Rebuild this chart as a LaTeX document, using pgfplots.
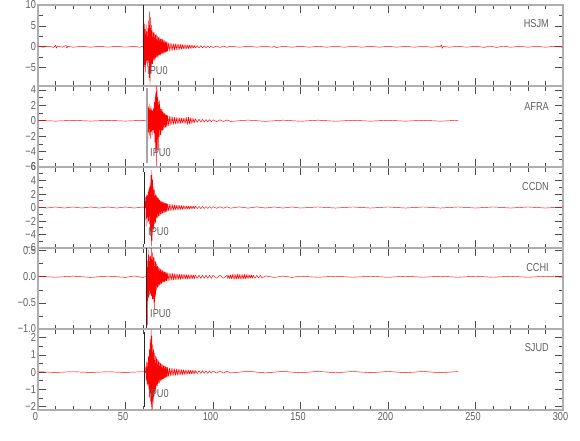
\documentclass[border=0pt]{standalone}
\usepackage{pgfplots}
\pgfplotsset{compat=1.18}
\usepackage{fontspec}
\setmainfont{Liberation Sans}[FakeStretch=0.8]
\newcommand\lab{\fontsize{11.5}{11.5}\selectfont}
\definecolor{frame}{HTML}{AEAEAE}
\definecolor{txt}{HTML}{606060}
\pgfplotsset{
 seis/.style={
  width=525pt, height=81pt, scale only axis, anchor=south west,
  xmin=0, xmax=300,
  xtick={0,50,100,150,200,250,300}, minor x tick num=4,
  xticklabels={},
  minor y tick num=1,
  axis line style={frame, line width=1.6pt},
  every tick/.style={black!70, line width=0.6pt},
  major tick length=8pt, minor tick length=4.5pt,
  tick align=inside,
  ticklabel style={font=\lab, text=txt},
  yticklabel style={xshift=1.5pt},
  xticklabel style={yshift=1pt, xshift=-2.5pt},
  clip=true,
 },
 tr/.style={red, line width=0.45pt, line join=round},
}
\begin{document}
\begin{tikzpicture}
\useasboundingbox (0,0) rectangle (580pt,440pt);
% Panel 1 HSJM
\begin{axis}[seis, at={(38pt,354pt)}, ymin=-9.4, ymax=10,
  ytick={-5,0,5,10}, yticklabels={−5,0,5,10}]
\addplot[tr] coordinates {(0,0.05)(3,-0.1)(6,0.12)(9,-0.15)(10,0.35)(10.5,-0.35)(11,0.15)(14,-0.1)(16,0.3)(16.5,-0.35)(17,0.1)(20,-0.1)(25,0.1)(30,-0.1)(35,0.1)(40,-0.08)(45,0.1)(50,-0.08)(55,0.1)(58,-0.1)(60,0.1)
(60.25,9.9)(60.5,-9.3)(60.75,5.5)(61,-4.8)(61.25,4.2)(61.5,-6.1)(61.75,5.3)(62,-3.9)(62.25,3.6)(62.5,-4.7)(62.75,4.4)(63,-3.8)(63.25,6.2)(63.5,-7.4)(63.75,8.4)(64,-9.2)(64.25,7.1)(64.5,-6.3)(64.75,5.2)(65,-4.6)(65.25,3.9)(65.5,-4.1)(65.75,3.4)(66,-3.4)(66.25,3.5)(66.5,-3.2)(66.75,3.1)
(67,-3.0)(67.25,2.8)(67.5,-2.6)(67.75,2.9)(68,-2.4)(68.25,2.5)(68.5,-2.6)(68.75,2.2)(69,-2.1)(69.25,2.3)(69.5,-2.0)(69.75,1.9)(70,-2.1)(70.25,1.8)(70.5,-1.7)(70.75,1.9)(71,-1.6)(71.25,1.7)(71.5,-1.7)(71.75,1.5)(72,-1.4)(72.25,1.5)(72.5,-1.4)(72.75,1.2)(73,-1.3)(73.25,1.25)(73.5,-1.15)(73.75,1.1)(74,-1.1)
(74.5,0.9)(75,-1.0)(75.5,0.85)(76,-0.9)(76.5,0.8)(77,-0.85)(77.5,0.75)(78,-0.8)(78.5,0.72)(79,-0.7)(79.5,0.68)(80,-0.7)(80.5,0.62)(81,-0.66)(81.5,0.58)(82,-0.6)(82.5,0.55)(83,-0.52)(83.5,0.5)(84,-0.5)(84.5,0.47)(85,-0.45)(85.5,0.43)(86,-0.44)(86.5,0.4)(87,-0.38)(87.5,0.37)(88,-0.36)(88.5,0.34)(89,-0.33)(89.5,0.32)(90,-0.3)
(91,0.28)(92,-0.27)(93,0.26)(94,-0.25)(95,0.24)(96,-0.23)(97,0.22)(98,-0.21)(99,0.2)(100,-0.19)(102,0.17)(104,-0.16)(106,0.15)(108,-0.13)(110,0.12)
(115,-0.1)(120,0.1)(125,-0.09)(130,0.1)(134,-0.1)(135,0.2)(136,-0.2)(140,0.1)(145,-0.1)(150,0.1)(155,-0.1)(160,0.1)(165,-0.1)(170,0.1)(175,-0.1)(180,0.1)(185,-0.1)(190,0.1)(195,-0.1)(200,0.1)(205,-0.1)(210,0.1)(215,-0.1)(220,0.1)(225,-0.1)(230,0.1)(230.5,0.45)(231,-0.4)(231.5,0.1)(235,-0.1)(240,0.1)(245,-0.1)(250,0.12)(255,-0.15)(258,0.15)(262,-0.15)(266,0.15)(270,-0.12)(275,0.1)(280,-0.1)(285,0.1)(290,-0.1)(295,0.1)(300,-0.1)};
\addplot[black!85, line width=0.7pt] coordinates {(60.2,-9.2)(60.2,10)};
\end{axis}
% Panel 2 AFRA
\begin{axis}[seis, at={(38pt,273pt)}, ymin=-6, ymax=4.5,
  ytick={-6,-4,-2,0,2,4}, yticklabels={−6,−4,−2,0,2,4}]
\addplot[tr] coordinates {(0,0.04)(10,-0.05)(20,0.05)(30,-0.05)(40,0.05)(50,-0.05)(60,0.05)(62.25,-0.05)
(62.5,1.2)(62.75,-2.6)(63,1.8)(63.25,-1.5)(63.5,2.2)(63.75,-1.9)(64,1.6)(64.25,-2.3)(64.5,1.9)(64.75,-1.4)(65,1.5)(65.25,-1.8)(65.5,1.3)(65.75,-1.2)(66,1.7)(66.25,-1.6)(66.5,2.4)(66.75,-2.8)(67,3.5)(67.25,-4.0)(67.5,4.6)(67.75,-5.9)(68,4.4)(68.25,-3.6)(68.5,3.0)(68.75,-3.8)(69,2.4)(69.25,-2.1)(69.5,2.6)(69.75,-1.9)(70,1.7)(70.25,-1.8)(70.5,1.5)(70.75,-1.3)(71,1.4)(71.25,-1.2)(71.5,1.1)(71.75,-1.15)(72,1.0)(72.25,-0.9)(72.5,0.95)(72.75,-0.85)(73,0.8)(73.25,-0.85)(73.5,0.75)(73.75,-0.7)(74,0.7)
(74.5,-0.65)(75,0.6)(75.5,-0.6)(76,0.55)(76.5,-0.5)(77,0.5)(77.5,-0.48)(78,0.45)(78.5,-0.45)(79,0.42)(79.5,-0.4)(80,0.4)(80.5,-0.38)(81,0.37)(81.5,-0.36)(82,0.34)(82.5,-0.33)(83,0.32)(83.5,-0.3)(84,0.35)(84.5,-0.4)(85,0.45)(85.5,-0.5)(86,0.48)(86.5,-0.45)(87,0.42)(87.5,-0.38)(88,0.33)(88.5,-0.3)(89,0.27)(89.5,-0.25)(90,0.24)
(91,-0.22)(92,0.2)(93,-0.19)(94,0.18)(95,-0.17)(96,0.16)(97,-0.15)(98,0.14)(99,-0.13)(100,0.12)(102,-0.12)(104,0.11)(106,-0.1)(108,0.1)(110,-0.09)
(120,0.08)(130,-0.08)(140,0.07)(150,-0.07)(160,0.07)(170,-0.07)(180,0.06)(190,-0.06)(200,0.06)(210,-0.06)(220,0.06)(230,-0.06)(240,0.05)};
\addplot[black!35, line width=1.6pt] coordinates {(62.2,-5.5)(62.2,4.2)};
\end{axis}
% Panel 3 CCDN
\begin{axis}[seis, at={(38pt,192pt)}, ymin=-6, ymax=6,
  ytick={-6,-4,-2,0,2,4,6}, yticklabels={−6,−4,−2,0,2,4,6}]
\addplot[tr] coordinates {(0,0.08)(5,-0.08)(10,0.08)(15,-0.08)(20,0.08)(25,-0.08)(30,0.08)(35,-0.08)(40,0.08)(45,-0.08)(50,0.08)(55,-0.08)(60,0.08)(61.25,-0.08)
(61.5,1.5)(61.75,-2.8)(62,1.9)(62.25,-1.6)(62.5,1.8)(62.75,-2.2)(63,2.5)(63.25,-2.0)(63.5,2.9)(63.75,-2.4)(64,3.6)(64.25,-4.2)(64.5,4.8)(64.75,-5.7)(65,5.5)(65.25,-4.9)(65.5,4.1)(65.75,-3.5)(66,3.0)(66.25,-3.2)(66.5,2.6)(66.75,-2.4)(67,2.0)(67.25,-2.2)(67.5,1.8)(67.75,-1.6)(68,1.7)(68.25,-1.5)(68.5,1.4)(68.75,-1.3)(69,1.35)(69.25,-1.2)(69.5,1.1)(69.75,-1.15)(70,1.0)(70.25,-0.95)(70.5,0.9)(70.75,-0.9)(71,0.85)(71.25,-0.8)(71.5,0.8)(71.75,-0.75)(72,0.7)(72.25,-0.72)(72.5,0.68)(72.75,-0.65)(73,0.6)(73.25,-0.62)(73.5,0.58)(73.75,-0.55)(74,0.55)
(74.5,-0.5)(75,0.48)(75.5,-0.47)(76,0.45)(76.5,-0.43)(77,0.42)(77.5,-0.4)(78,0.38)(78.5,-0.37)(79,0.36)(79.5,-0.34)(80,0.33)(80.5,-0.32)(81,0.31)(81.5,-0.3)(82,0.29)(82.5,-0.28)(83,0.27)(83.5,-0.26)(84,0.25)(84.5,-0.25)(85,0.24)(85.5,-0.23)(86,0.22)(86.5,-0.22)(87,0.21)(87.5,-0.2)(88,0.2)(88.5,-0.19)(89,0.19)(89.5,-0.18)(90,0.18)
(91,-0.17)(92,0.16)(93,-0.16)(94,0.15)(95,-0.15)(96,0.14)(97,-0.14)(98,0.13)(99,-0.13)(100,0.12)(102,-0.12)(104,0.11)(106,-0.11)(108,0.1)(110,-0.1)
(115,0.09)(120,-0.09)(125,0.09)(130,-0.08)(135,0.08)(140,-0.08)(145,0.08)(150,-0.08)(160,0.08)(170,-0.08)(180,0.08)(190,-0.08)(200,0.08)(210,-0.08)(220,0.08)(230,-0.08)(240,0.08)(250,-0.08)(260,0.08)(270,-0.08)(280,0.08)(290,-0.08)(300,0.08)};
\addplot[black!85, line width=0.7pt] coordinates {(60.8,-5.4)(60.8,5.2)};
\end{axis}
% Panel 4 CCHI
\begin{axis}[seis, at={(38pt,111pt)}, ymin=-1.0, ymax=0.55,
  ytick={-1,-0.5,0,0.5}, yticklabels={−1.0,−0.5,0.0,0.5}]
\addplot[tr] coordinates {(0,0.01)(10,-0.01)(20,0.012)(30,-0.012)(40,0.012)(50,-0.012)(55,0.015)(60,-0.015)(62.15,0.01)
(62.4,0.3)(62.65,-0.92)(62.9,0.52)(63.15,-0.4)(63.4,0.42)(63.65,-0.35)(63.9,0.38)(64.15,-0.33)(64.4,0.4)(64.65,-0.36)(64.9,0.55)(65.15,-0.45)(65.4,0.46)(65.65,-0.42)(65.9,0.38)(66.15,-0.5)(66.4,0.36)(66.65,-0.62)(66.9,0.3)(67.15,-0.38)(67.4,0.28)(67.65,-0.26)(67.9,0.24)(68.15,-0.22)(68.4,0.2)(68.65,-0.19)(68.9,0.18)(69.15,-0.17)(69.4,0.16)(69.65,-0.15)(69.9,0.15)(70.15,-0.14)(70.4,0.13)(70.65,-0.13)(70.9,0.12)(71.15,-0.11)(71.4,0.11)(71.65,-0.1)(71.9,0.1)(72.15,-0.1)(72.4,0.09)(72.65,-0.09)(72.9,0.09)(73.15,-0.08)(73.4,0.08)(73.65,-0.08)(73.9,0.075)
(74.4,-0.075)(74.9,0.07)(75.4,-0.07)(75.9,0.068)(76.4,-0.066)(76.9,0.064)(77.4,-0.062)(77.9,0.06)(78.4,-0.058)(78.9,0.056)(79.4,-0.055)(79.9,0.054)(80.4,-0.052)(80.9,0.05)(81.4,-0.05)(81.9,0.048)(82.4,-0.047)(82.9,0.046)(83.4,-0.045)(83.9,0.044)(84.4,-0.043)(84.9,0.042)(85.4,-0.041)(85.9,0.04)(86.4,-0.04)(86.9,0.039)(87.4,-0.038)(87.9,0.037)(88.4,-0.036)(88.9,0.035)(89.4,-0.035)(89.9,0.034)
(91,-0.033)(92,0.032)(93,-0.031)(94,0.03)(95,-0.03)(96,0.03)(97,-0.03)(98,0.03)(99,-0.03)(100,0.03)(102,-0.03)(104,0.03)(106,-0.03)
(108,0.03)(108.5,-0.035)(109,0.03)(109.5,-0.04)(110,0.035)(110.5,-0.04)(111,0.045)(111.5,-0.04)(112,0.045)(112.5,-0.05)(113,0.04)(113.5,-0.045)(114,0.05)(114.5,-0.04)(115,0.045)(115.5,-0.045)(116,0.04)(116.5,-0.045)(117,0.04)(117.5,-0.04)(118,0.045)(118.5,-0.04)(119,0.04)(119.5,-0.035)(120,0.04)(120.5,-0.035)(121,0.035)(121.5,-0.03)(122,0.035)(122.5,-0.03)(123,0.03)(124,-0.03)(125,0.028)(126,-0.025)(127,0.025)(128,-0.022)
(130,0.015)(135,-0.012)(140,0.012)(145,-0.012)(150,0.01)(160,-0.01)(170,0.01)(180,-0.01)(190,0.01)(200,-0.01)(210,0.01)(220,-0.01)(230,0.01)(240,-0.01)(250,0.01)(260,-0.01)(270,0.01)(280,-0.01)(290,0.01)(300,-0.01)};
\addplot[black!85, line width=0.7pt] coordinates {(62.1,-1.0)(62.1,0.55)};
\end{axis}
% Panel 5 SJUD
\begin{axis}[seis, at={(38pt,30pt)}, ymin=-2.2, ymax=2.5,
  ytick={-2,-1,0,1,2}, yticklabels={−2,−1,0,1,2},
  xticklabels={0,50,100,150,200,250,300}]
\addplot[tr] coordinates {(0,0.02)(10,-0.02)(20,0.02)(30,-0.02)(40,0.02)(50,-0.02)(60,0.02)(61.35,-0.02)
(61.6,0.3)(61.85,-0.5)(62.1,0.6)(62.35,-0.7)(62.6,0.55)(62.85,-0.8)(63.1,0.9)(63.35,-1.0)(63.6,1.3)(63.85,-1.5)(64.1,1.9)(64.35,-1.7)(64.6,2.45)(64.85,-2.2)(65.1,2.1)(65.35,-2.15)(65.6,1.6)(65.85,-1.8)(66.1,1.3)(66.35,-1.4)(66.6,1.1)(66.85,-1.2)(67.1,0.95)(67.35,-1.0)(67.6,0.85)(67.85,-0.8)(68.1,0.75)(68.35,-0.8)(68.6,0.7)(68.85,-0.65)(69.1,0.6)(69.35,-0.62)(69.6,0.55)(69.85,-0.52)(70.1,0.5)(70.35,-0.48)(70.6,0.45)(70.85,-0.46)(71.1,0.42)(71.35,-0.4)(71.6,0.38)(71.85,-0.38)(72.1,0.36)(72.35,-0.34)(72.6,0.33)(72.85,-0.32)(73.1,0.3)(73.35,-0.3)(73.6,0.28)(73.85,-0.27)(74.1,0.26)
(74.6,-0.25)(75.1,0.24)(75.6,-0.23)(76.1,0.22)(76.6,-0.22)(77.1,0.21)(77.6,-0.2)(78.1,0.2)(78.6,-0.19)(79.1,0.18)(79.6,-0.18)(80.1,0.17)(80.6,-0.17)(81.1,0.16)(81.6,-0.16)(82.1,0.15)(82.6,-0.15)(83.1,0.14)(83.6,-0.14)(84.1,0.13)(84.6,-0.13)(85.1,0.12)(85.6,-0.12)(86.1,0.12)(86.6,-0.11)(87.1,0.11)(87.6,-0.11)(88.1,0.1)(88.6,-0.1)(89.1,0.1)(89.6,-0.1)(90.1,0.09)
(91,-0.09)(92,0.085)(93,-0.08)(94,0.08)(95,-0.075)(96,0.075)(97,-0.07)(98,0.07)(99,-0.065)(100,0.065)(102,-0.06)(104,0.06)(106,-0.055)(108,0.055)(110,-0.05)
(120,0.045)(130,-0.045)(140,0.04)(150,-0.04)(160,0.04)(170,-0.04)(180,0.035)(190,-0.035)(200,0.035)(210,-0.035)(220,0.035)(230,-0.035)(240,0.03)};
\addplot[black!85, line width=0.7pt] coordinates {(61.0,-2.05)(61.0,2.3)};
\end{axis}
% station names and picks
\begin{scope}[every node/.style={font=\lab, text=txt, inner sep=0pt}]
\node[anchor=east] at (549pt,416pt) {HSJM};
\node[anchor=east] at (549pt,333pt) {AFRA};
\node[anchor=east] at (549pt,253pt) {CCDN};
\node[anchor=east] at (549pt,172pt) {CCHI};
\node[anchor=east] at (549pt,92pt) {SJUD};
\node[anchor=west] at (147pt,369pt) {IPU0};
\node[anchor=west] at (150pt,287pt) {IPU0};
\node[anchor=west] at (148pt,208pt) {IPU0};
\node[anchor=west] at (150pt,126pt) {IPU0};
\node[anchor=west] at (148pt,46pt) {IPU0};
\end{scope}
\end{tikzpicture}
\end{document}
